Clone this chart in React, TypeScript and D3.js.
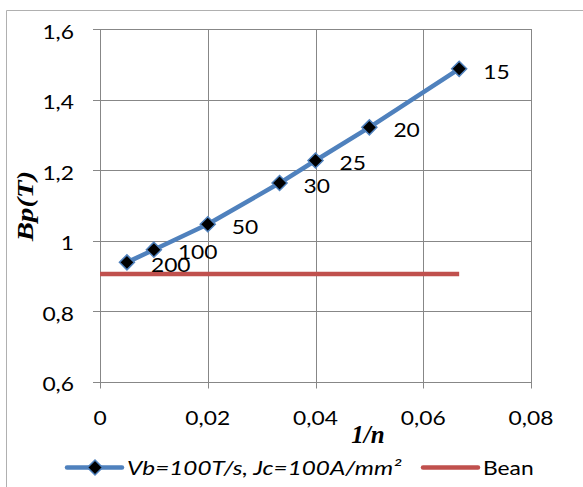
import React from "react";
import * as d3 from "d3";

const nValues = [200, 100, 50, 30, 25, 20, 15];
const bpValues = [0.938, 0.974, 1.046, 1.163, 1.227, 1.321, 1.487];
const beanValue = 0.905;
const beanRange = [0, 1 / 15];
const xTicks = [0, 0.02, 0.04, 0.06, 0.08];
const yTicks = [0.6, 0.8, 1.0, 1.2, 1.4, 1.6];
const seriesName = "Vb=100T/s, Jc=100A/mm²";
const beanName = "Bean";

const fmt = (v: number) => {
  const s = d3.format("~g")(+v.toFixed(4));
  return s.replace(".", ",");
};

function T(props: { x: number; y: number; anchor?: string; italic?: boolean; sx?: number; children: React.ReactNode }) {
  const { x, y, anchor = "start", italic = false, sx = 1.2, children } = props;
  return (
    <text
      transform={`translate(${x},${y}) scale(${sx},1)`}
      textAnchor={anchor}
      dominantBaseline="central"
      fontFamily="Lato, 'Open Sans', sans-serif"
      fontStyle={italic ? "italic" : "normal"}
      fontSize={19}
      fill="#000"
    >
      {children}
    </text>
  );
}

export default function App() {
  const W = 583, H = 487;
  const x = d3.scaleLinear().domain([0, 0.08]).range([100, 531]);
  const y = d3.scaleLinear().domain([0.6, 1.6]).range([381.5, 29]);
  const pts = nValues.map((n, i) => ({ n, x: 1 / n, y: bpValues[i] }));
  const line = d3.line<{ x: number; y: number }>().x(d => x(d.x)).y(d => y(d.y));
  const blue = "#4F81BD";
  const red = "#C0504D";
  const grid = "#878787";
  const diamond = (cx: number, cy: number, r: number) =>
    `M${cx},${cy - r}L${cx + r},${cy}L${cx},${cy + r}L${cx - r},${cy}Z`;
  const [x0, x1] = x.range();
  const [yb, yt] = y.range();
  const legendY = 467.5;
  const serif = "'Liberation Serif', 'Times New Roman', serif";

  return (
    <svg width={W} height={H} style={{ position: "fixed", left: 0, top: 0, background: "#fff" }}>
      <rect x={0} y={0} width={W} height={H} fill="#fff" />
      <path d={`M6.5,${H}V10.5H${W}`} fill="none" stroke="#b0b0b0" strokeWidth={1} />
      {yTicks.map(t => (
        <line key={"gy" + t} x1={x0 - 7} x2={x1} y1={Math.round(y(t)) + 0.5} y2={Math.round(y(t)) + 0.5} stroke={grid} strokeWidth={1} />
      ))}
      {xTicks.map(t => (
        <line key={"gx" + t} x1={Math.round(x(t)) + 0.5} x2={Math.round(x(t)) + 0.5} y1={yt} y2={yb + 7} stroke={grid} strokeWidth={1} />
      ))}
      {yTicks.map(t => (
        <T key={"ty" + t} x={x0 - 26} y={y(t) + 2} anchor="end">{fmt(t)}</T>
      ))}
      {xTicks.map(t => (
        <T key={"tx" + t} x={x(t)} y={417} anchor="middle">{fmt(t)}</T>
      ))}
      <text x={368} y={443} textAnchor="middle" fontFamily={serif} fontStyle="italic" fontWeight="bold" fontSize={25}>1/n</text>
      <text transform={`translate(33,206) rotate(-90) scale(1.2,1)`} textAnchor="middle" fontFamily={serif} fontStyle="italic" fontWeight="bold" fontSize={24}>Bp(T)</text>
      <line x1={x(beanRange[0])} x2={x(beanRange[1])} y1={y(beanValue)} y2={y(beanValue)} stroke={red} strokeWidth={4.5} />
      <path d={line(pts) || ""} fill="none" stroke={blue} strokeWidth={4.5} strokeLinejoin="round" />
      {pts.map(p => (
        <path key={"m" + p.n} d={diamond(x(p.x), y(p.y), 7.5)} fill="#000" stroke={blue} strokeWidth={1.5} />
      ))}
      {pts.map(p => (
        <T key={"l" + p.n} x={x(p.x) + 24} y={y(p.y) + 2}>{p.n}</T>
      ))}
      <line x1={67} x2={122} y1={legendY} y2={legendY} stroke={blue} strokeWidth={4.5} strokeLinecap="round" />
      <path d={diamond(95, legendY, 7.5)} fill="#000" stroke={blue} strokeWidth={1.5} />
      <T x={127} y={legendY} italic sx={1.28}>{seriesName}</T>
      <line x1={423} x2={478} y1={legendY} y2={legendY} stroke={red} strokeWidth={4.5} strokeLinecap="round" />
      <T x={483} y={legendY}>{beanName}</T>
    </svg>
  );
}
